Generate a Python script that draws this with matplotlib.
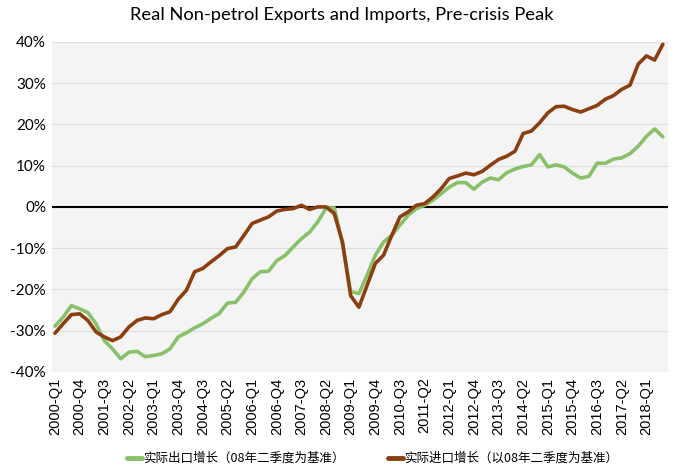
import numpy as np
import matplotlib
matplotlib.use('Agg')
import matplotlib.pyplot as plt

# quarterly series, 2000-Q1 .. 2018-Q3, % vs 2008-Q2
quarters = [f'{y}-Q{q}' for y in range(2000, 2019) for q in range(1, 5)][:75]

exports = [-28.9, -26.7, -23.9, -24.7, -25.6, -28.3, -32.4, -34.4, -36.8, -35.2,
           -35.0, -36.3, -36.0, -35.6, -34.4, -31.5, -30.5, -29.3, -28.3, -27.0,
           -25.8, -23.3, -23.1, -20.6, -17.4, -15.7, -15.6, -13.0, -11.8, -9.7,
           -7.7, -6.1, -3.6, -0.3, -0.2, -9.0, -20.5, -21.0, -16.5, -11.7,
           -8.5, -6.9, -4.4, -2.0, -0.4, 0.4, 1.6, 3.2, 4.8, 5.9,
           5.9, 4.3, 6.0, 7.0, 6.6, 8.3, 9.2, 9.8, 10.2, 12.7,
           9.7, 10.2, 9.7, 8.2, 7.0, 7.4, 10.6, 10.6, 11.6, 11.9,
           12.9, 14.7, 17.1, 18.9, 17.0]

imports = [-30.6, -28.3, -26.1, -25.9, -27.5, -30.3, -31.5, -32.4, -31.5, -29.1,
           -27.5, -26.9, -27.1, -26.1, -25.4, -22.4, -20.2, -15.7, -14.9, -13.3,
           -11.8, -10.1, -9.7, -6.9, -4.0, -3.2, -2.4, -1.0, -0.6, -0.4,
           0.4, -0.6, 0.0, 0.0, -1.6, -8.5, -21.5, -24.3, -19.0, -13.7,
           -11.7, -6.9, -2.4, -1.2, 0.4, 0.8, 2.4, 4.4, 6.9, 7.5,
           8.2, 7.8, 8.6, 10.1, 11.5, 12.3, 13.5, 17.8, 18.4, 20.4,
           22.8, 24.3, 24.4, 23.6, 23.0, 23.8, 24.6, 26.1, 27.0, 28.5,
           29.5, 34.6, 36.6, 35.6, 39.4]

label_exp = '实际出口增长（08年二季度为基准）'
label_imp = '实际进口增长（以08年二季度为基准）'

fig = plt.figure(figsize=(6.8, 4.76), dpi=100)
ax = fig.add_axes([0.076, 0.2185, 0.906, 0.6935])
ax.set_facecolor('#f4f4f4')

x = np.arange(len(quarters))
ax.plot(x, exports, color='#89c06a', lw=2.6, label=label_exp, solid_capstyle='round')
ax.plot(x, imports, color='#8b3f10', lw=2.6, label=label_imp, solid_capstyle='round')
ax.axhline(0, color='black', lw=1.5, zorder=1.5)

ax.set_ylim(-40, 40)
ax.set_xlim(-0.4, 74.6)
yt = np.arange(-40, 41, 10)
ax.set_yticks(yt)
ax.set_yticklabels([f'{v}%' for v in yt], fontfamily='Lato', fontsize=11)
ax.set_xticks(x[::3])
ax.set_xticklabels(quarters[::3], rotation=90, fontfamily='Liberation Sans', fontsize=10.5)
ax.tick_params(length=0, pad=4)
ax.grid(axis='y', color='#dedede', lw=0.8)
ax.set_axisbelow(True)
for s in ax.spines.values():
    s.set_visible(False)

fig.suptitle('Real Non-petrol Exports and Imports, Pre-crisis Peak',
             fontfamily='Lato', fontsize=13.2, x=0.503, y=0.985)

leg = fig.legend(loc='center', bbox_to_anchor=(0.548, 0.037), ncol=2, frameon=False,
                 prop={'family': ['Noto Sans CJK SC', 'DejaVu Sans'], 'size': 9},
                 handlelength=1.2, handletextpad=0.1, columnspacing=3.5)
for h in leg.get_lines():
    h.set_linewidth(3.5)

fig.savefig('out.png', dpi=100)
